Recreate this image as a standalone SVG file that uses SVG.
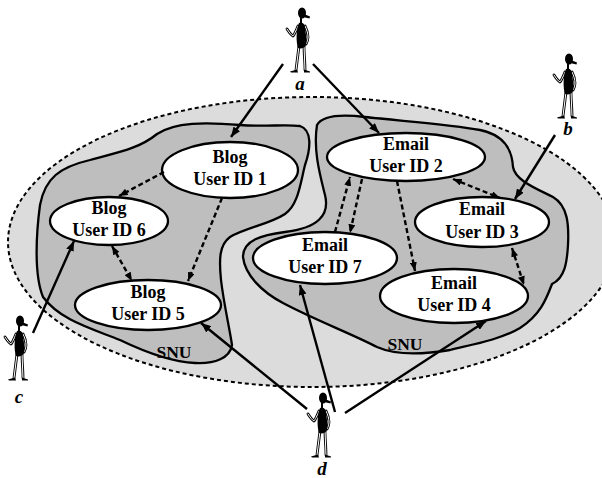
<svg xmlns="http://www.w3.org/2000/svg" xmlns:xlink="http://www.w3.org/1999/xlink" width="602" height="478" viewBox="0 0 602 478">
  <style>
    .domain { fill: #dcdcdc; stroke: #000; stroke-width: 2; stroke-dasharray: 4 3; }
    .snu { fill: #bebebe; stroke: #000; stroke-width: 2.3; }
    .node ellipse { fill: #fff; stroke: #000; stroke-width: 2.3; }
    .node text, .snu-label { font-family: "Liberation Serif", "Times New Roman", serif; font-weight: bold; font-size: 18px; text-anchor: middle; fill: #000; }
    .snu-label { font-size: 17.5px; }
    .who { font-family: "Liberation Serif", "Times New Roman", serif; font-style: italic; font-weight: bold; font-size: 19px; text-anchor: middle; }
    .solid { stroke: #000; stroke-width: 2.4; fill: none; marker-end: url(#head); }
    .dash { stroke: #000; stroke-width: 2.4; fill: none; stroke-dasharray: 5 3; marker-end: url(#shead); }
    .both { marker-start: url(#shead); }
    .limb-out { fill: none; stroke: #000; stroke-width: 2.8; stroke-linecap: round; stroke-linejoin: round; }
    .limb-in { fill: none; stroke: #fff; stroke-width: 1; stroke-linecap: round; stroke-linejoin: round; }
  </style>
  <defs>
    <marker id="head" viewBox="0 0 10 8" refX="10" refY="4" markerWidth="10" markerHeight="8" markerUnits="userSpaceOnUse" orient="auto-start-reverse">
      <path d="M0,0 L10,4 L0,8 z" fill="#000"/>
    </marker>
    <marker id="shead" viewBox="0 0 10 8" refX="10" refY="4" markerWidth="9" markerHeight="7" markerUnits="userSpaceOnUse" orient="auto-start-reverse">
      <path d="M0,0 L10,4 L0,8 z" fill="#000"/>
    </marker>
    <!-- arms and legs of the stick figure, origin between the feet -->
    <path id="limbs" d="M -2,-46 C -4,-41 -6,-37 -7,-36 C -9,-37 -11,-40 -13,-43
                        M 5,-46 C 7,-42 8,-38 8,-35 C 8,-32 7,-30 6,-28
                        M -1,-26 C -2,-18 -3,-10 -4,-2
                        M 4,-26 C 4,-18 5,-10 5,-2"/>
    <g id="person">
      <use xlink:href="#limbs" class="limb-out"/>
      <use xlink:href="#limbs" class="limb-in"/>
      <ellipse cx="2" cy="-59" rx="4" ry="5.5" fill="#000"/>
      <path d="M 4,-58 L 10,-55.5 L 9.5,-53.5 L 3,-55 Z" fill="#000"/>
      <path d="M 1,-54 L 1,-49" stroke="#000" stroke-width="2"/>
      <path d="M -1,-49 C 3,-50 5,-48 5,-44 C 6,-38 7,-31 6,-27 C 5,-24 1,-23 -2,-24 C -4,-30 -4,-42 -1,-49 Z" fill="#000"/>
      <path d="M -3,-2.5 L -10,-0.5 L -9,0.5 L -2,0.5 Z" fill="#000"/>
      <path d="M 4,-2.5 L 10,-0.5 L 10,0.5 L 4,0.5 Z" fill="#000"/>
    </g>
  </defs>

  <!-- overall domain -->
  <ellipse class="domain" cx="312" cy="242" rx="304" ry="145"/>

  <!-- social network user regions -->
  <g id="snu-blog">
    <path class="snu" d="M 40,205 C 45,178 60,167 90,160 C 120,152 140,148 157,134 C 175,122 205,122 240,125 C 265,127 285,124 300,126 C 312,130 311,148 305,165 C 300,185 298,205 285,214 C 270,224 245,228 230,237 C 219,245 219,260 221,280 C 224,305 229,325 232,345 C 230,358 215,364 195,363 C 170,362 145,352 120,340 C 90,328 60,320 43,297 C 34,275 36,235 40,205 Z"/>
    <text class="snu-label" x="174" y="358">SNU</text>
  </g>
  <g id="snu-email">
    <path class="snu" d="M 317,125 C 322,116 340,114 365,117 C 400,121 450,124 480,130 C 505,135 512,150 513,167 C 515,180 535,188 553,197 C 568,206 569,225 568,245 C 567,262 565,278 552,284 C 546,300 540,315 520,328 C 500,340 470,345 450,350 C 420,355 395,355 377,347 C 350,333 315,320 283,303 C 262,292 245,275 243,257 C 243,240 262,235 285,232 C 318,228 330,215 325,195 C 320,175 313,150 317,125 Z"/>
    <text class="snu-label" x="405" y="350">SNU</text>
  </g>

  <!-- user accounts -->
  <g id="blog1" class="node">
    <ellipse cx="230" cy="170" rx="68" ry="28"/>
    <text x="230" y="163">Blog</text>
    <text x="230" y="185">User ID 1</text>
  </g>
  <g id="blog6" class="node">
    <ellipse cx="109" cy="221" rx="59" ry="24"/>
    <text x="109" y="214">Blog</text>
    <text x="109" y="236">User ID 6</text>
  </g>
  <g id="blog5" class="node">
    <ellipse cx="148" cy="305" rx="73" ry="25"/>
    <text x="148" y="298">Blog</text>
    <text x="148" y="320">User ID 5</text>
  </g>
  <g id="email2" class="node">
    <ellipse cx="406" cy="157" rx="79" ry="24"/>
    <text x="406" y="150">Email</text>
    <text x="406" y="172">User ID 2</text>
  </g>
  <g id="email3" class="node">
    <ellipse cx="482" cy="222" rx="67" ry="25"/>
    <text x="482" y="215">Email</text>
    <text x="482" y="238">User ID 3</text>
  </g>
  <g id="email7" class="node">
    <ellipse cx="325" cy="258" rx="72" ry="26"/>
    <text x="325" y="251">Email</text>
    <text x="325" y="273">User ID 7</text>
  </g>
  <g id="email4" class="node">
    <ellipse cx="454" cy="296" rx="74" ry="27"/>
    <text x="454" y="289">Email</text>
    <text x="454" y="311">User ID 4</text>
  </g>

  <!-- people -->
  <g id="person-a">
    <use xlink:href="#person" transform="translate(300,72)"/>
    <text class="who" x="300" y="90">a</text>
  </g>
  <g id="person-b">
    <use xlink:href="#person" transform="translate(567,118)"/>
    <text class="who" x="568" y="135">b</text>
  </g>
  <g id="person-c">
    <use xlink:href="#person" transform="translate(18,380)"/>
    <text class="who" x="19" y="403">c</text>
  </g>
  <g id="person-d">
    <use xlink:href="#person" transform="translate(321,457)"/>
    <text class="who" x="322" y="475">d</text>
  </g>

  <!-- connectors -->
  <g id="connectors">
    <line class="solid" x1="283" y1="64" x2="231" y2="137"/>
    <line class="solid" x1="313" y1="64" x2="379" y2="133"/>
    <line class="solid" x1="555" y1="135" x2="515" y2="199"/>
    <line class="solid" x1="33" y1="333" x2="74" y2="241"/>
    <line class="solid" x1="307" y1="409" x2="201" y2="323"/>
    <line class="solid" x1="335" y1="412" x2="300" y2="285"/>
    <line class="solid" x1="345" y1="413" x2="486" y2="321"/>

    <line class="dash" x1="164" y1="172" x2="119" y2="196"/>
    <line class="dash" x1="222" y1="198" x2="188" y2="281"/>
    <line class="dash both" x1="112" y1="246" x2="132" y2="281"/>
    <line class="dash both" x1="453" y1="179" x2="500" y2="198"/>
    <line class="dash both" x1="512" y1="248" x2="524" y2="285"/>
    <line class="dash" x1="397" y1="181" x2="415" y2="271"/>
    <line class="dash" x1="335" y1="232" x2="350" y2="177"/>
    <line class="dash" x1="362" y1="179" x2="350" y2="233"/>
  </g>
</svg>
